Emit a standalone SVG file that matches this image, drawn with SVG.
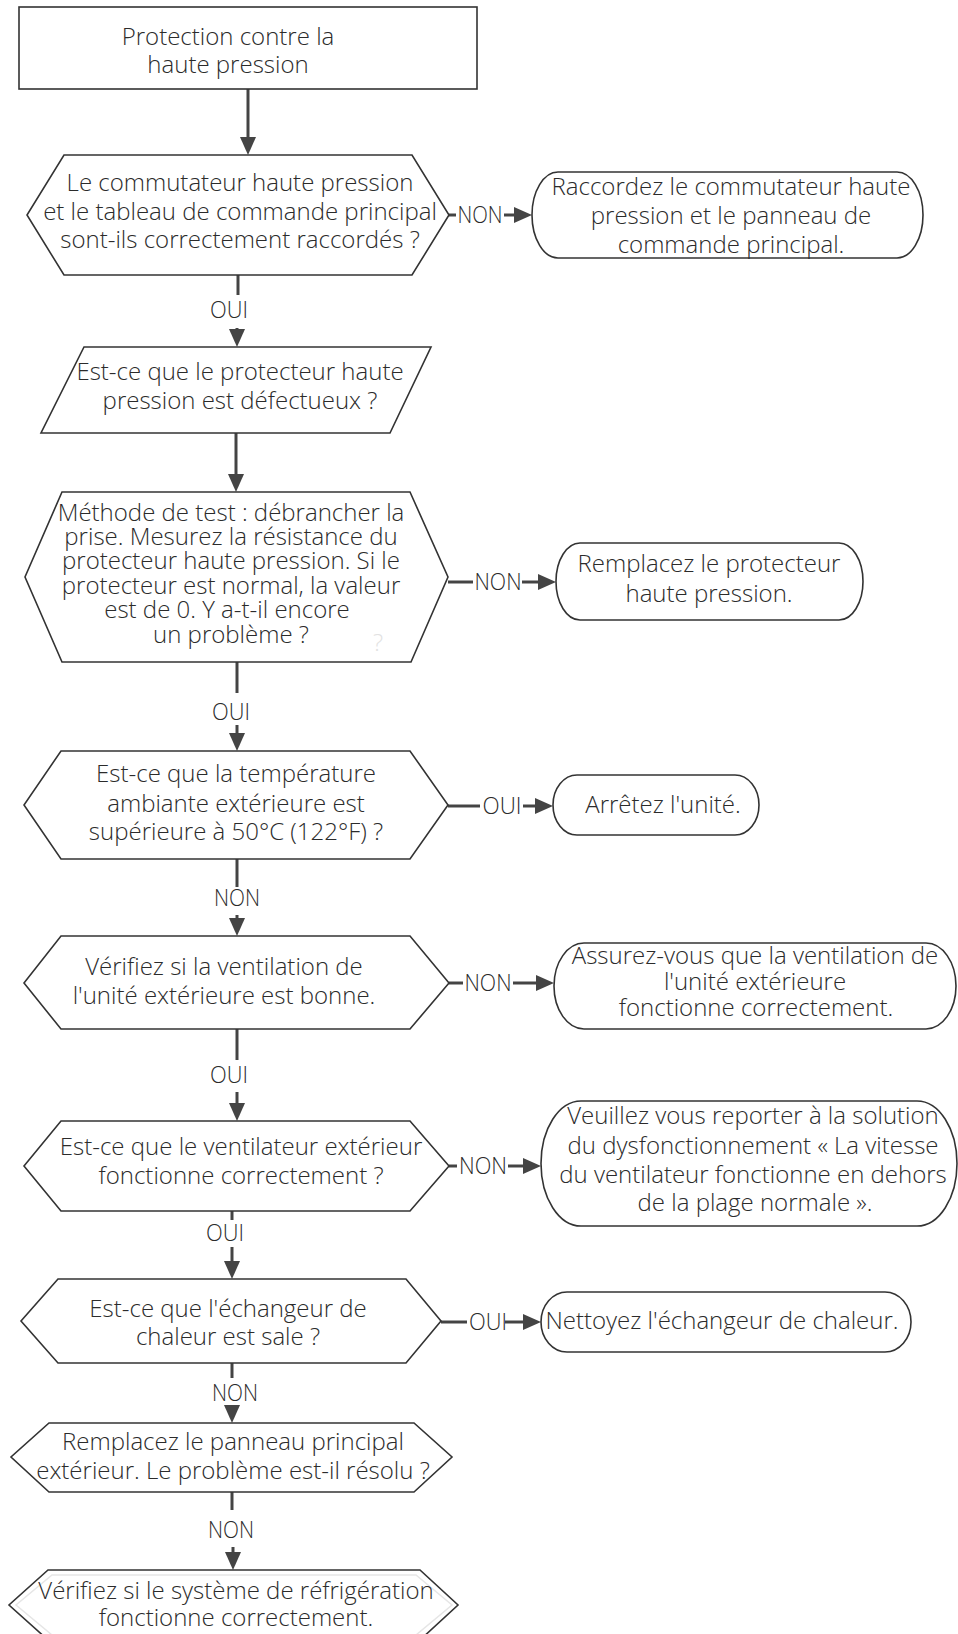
<svg xmlns="http://www.w3.org/2000/svg" width="958" height="1634" viewBox="0 0 958 1634">
<style>
.s{fill:#fff;stroke:#333;stroke-width:1.6}
.t{font-family:"Open Sans","Liberation Sans",sans-serif;font-size:24px;font-weight:300;fill:#2b2b2b;text-anchor:middle}
.c{fill:none;stroke:#444;stroke-width:3}
.l{font-family:"Open Sans","Liberation Sans",sans-serif;font-size:23px;font-weight:300;fill:#2b2b2b;text-anchor:middle}
</style>
<defs>
<marker id="ah" viewBox="0 0 18 16" markerUnits="userSpaceOnUse" markerWidth="18" markerHeight="16" refX="10" refY="8" orient="auto">
<path d="M0,0 L18,8 L0,16 z" fill="#444"/>
</marker>
</defs>
<rect width="958" height="1634" fill="#fff"/>

<g id="connectors">
<path class="c" d="M248,89 V147" marker-end="url(#ah)"/>
<path class="c" d="M238,275 V295"/>
<path class="c" d="M237,328 V339" marker-end="url(#ah)"/>
<path class="c" d="M236,433 V484" marker-end="url(#ah)"/>
<path class="c" d="M237,662 V693"/>
<path class="c" d="M237,725 V743" marker-end="url(#ah)"/>
<path class="c" d="M237,859 V887"/>
<path class="c" d="M237,915 V928" marker-end="url(#ah)"/>
<path class="c" d="M237,1029 V1060"/>
<path class="c" d="M237,1092 V1113" marker-end="url(#ah)"/>
<path class="c" d="M232,1211 V1220"/>
<path class="c" d="M232,1247 V1271" marker-end="url(#ah)"/>
<path class="c" d="M232,1363 V1378"/>
<path class="c" d="M232,1408 V1415" marker-end="url(#ah)"/>
<path class="c" d="M232,1492 V1510"/>
<path class="c" d="M233,1547 V1562" marker-end="url(#ah)"/>
<text class="l" x="229" y="318" textLength="38" lengthAdjust="spacingAndGlyphs">OUI</text>
<text class="l" x="231" y="720" textLength="38" lengthAdjust="spacingAndGlyphs">OUI</text>
<text class="l" x="237" y="906" textLength="46" lengthAdjust="spacingAndGlyphs">NON</text>
<text class="l" x="229" y="1083" textLength="38" lengthAdjust="spacingAndGlyphs">OUI</text>
<text class="l" x="225" y="1241" textLength="38" lengthAdjust="spacingAndGlyphs">OUI</text>
<text class="l" x="235" y="1401" textLength="46" lengthAdjust="spacingAndGlyphs">NON</text>
<text class="l" x="231" y="1538" textLength="46" lengthAdjust="spacingAndGlyphs">NON</text>

<path class="c" d="M449,215 H456"/>
<path class="c" d="M504,215 H524" marker-end="url(#ah)"/>
<text class="l" x="480" y="223" textLength="45" lengthAdjust="spacingAndGlyphs">NON</text>
<path class="c" d="M448,582 H473"/>
<path class="c" d="M522,582 H548" marker-end="url(#ah)"/>
<text class="l" x="498" y="590" textLength="47" lengthAdjust="spacingAndGlyphs">NON</text>
<path class="c" d="M448,806 H480"/>
<path class="c" d="M523,806 H545" marker-end="url(#ah)"/>
<text class="l" x="502" y="814" textLength="39" lengthAdjust="spacingAndGlyphs">OUI</text>
<path class="c" d="M449,983 H463"/>
<path class="c" d="M513,983 H546" marker-end="url(#ah)"/>
<text class="l" x="488" y="991" textLength="47" lengthAdjust="spacingAndGlyphs">NON</text>
<path class="c" d="M449,1166 H457"/>
<path class="c" d="M508,1166 H533" marker-end="url(#ah)"/>
<text class="l" x="483" y="1174" textLength="48" lengthAdjust="spacingAndGlyphs">NON</text>
<path class="c" d="M441,1322 H467"/>
<path class="c" d="M505,1322 H533" marker-end="url(#ah)"/>
<text class="l" x="488" y="1330" textLength="38" lengthAdjust="spacingAndGlyphs">OUI</text>
</g>

<g id="n-start">
<rect class="s" x="19" y="7" width="458" height="82"/>
<text class="t" x="228" y="45">Protection contre la</text>
<text class="t" x="228" y="73">haute pression</text>
</g>

<g id="n-q1">
<polygon class="s" points="64,155 412,155 449,215 412,275 64,275 27,215"/>
<text class="t" x="240" y="191">Le commutateur haute pression</text>
<text class="t" x="240" y="220">et le tableau de commande principal</text>
<text class="t" x="240" y="248">sont-ils correctement raccordés ?</text>
</g>

<g id="n-a1">
<rect class="s" x="532" y="172" width="391" height="86" rx="26" ry="43"/>
<text class="t" x="731" y="195">Raccordez le commutateur haute</text>
<text class="t" x="731" y="224">pression et le panneau de</text>
<text class="t" x="731" y="253">commande principal.</text>
</g>

<g id="n-q2">
<polygon class="s" points="84,347 431,347 390,433 41,433"/>
<text class="t" x="240" y="380">Est-ce que le protecteur haute</text>
<text class="t" x="240" y="409">pression est défectueux ?</text>
</g>

<g id="n-q3">
<polygon class="s" points="62,492 410,492 448,577 411,662 62,662 25,577"/>
<text class="t" x="231" y="521">Méthode de test : débrancher la</text>
<text class="t" x="231" y="545">prise. Mesurez la résistance du</text>
<text class="t" x="231" y="569">protecteur haute pression. Si le</text>
<text class="t" x="231" y="594">protecteur est normal, la valeur</text>
<text class="t" x="227" y="618">est de 0. Y a-t-il encore</text>
<text class="t" x="231" y="643">un problème ?</text>
<text class="t" x="378" y="651" style="fill:#e2e2e2">?</text>
</g>

<g id="n-a2">
<rect class="s" x="556" y="543" width="307" height="77" rx="24" ry="38.5"/>
<text class="t" x="709" y="572">Remplacez le protecteur</text>
<text class="t" x="709" y="602">haute pression.</text>
</g>

<g id="n-q4">
<polygon class="s" points="61,751 410,751 448,805 410,859 61,859 24,805"/>
<text class="t" x="236" y="782">Est-ce que la température</text>
<text class="t" x="236" y="812">ambiante extérieure est</text>
<text class="t" x="236" y="840">supérieure à 50°C (122°F) ?</text>
</g>

<g id="n-a3">
<rect class="s" x="553" y="775" width="206" height="60" rx="24" ry="30"/>
<text class="t" x="663" y="813">Arrêtez l'unité.</text>
</g>

<g id="n-q5">
<polygon class="s" points="61,936 410,936 449,983 410,1029 61,1029 24,983"/>
<text class="t" x="224" y="975">Vérifiez si la ventilation de</text>
<text class="t" x="224" y="1004">l'unité extérieure est bonne.</text>
</g>

<g id="n-a4">
<rect class="s" x="554" y="943" width="402" height="86" rx="30" ry="43"/>
<text class="t" x="755" y="964">Assurez-vous que la ventilation de</text>
<text class="t" x="755" y="990">l'unité extérieure</text>
<text class="t" x="756" y="1016">fonctionne correctement.</text>
</g>

<g id="n-q6">
<polygon class="s" points="61,1121 410,1121 449,1166 410,1211 61,1211 24,1166"/>
<text class="t" x="241" y="1155">Est-ce que le ventilateur extérieur</text>
<text class="t" x="241" y="1184">fonctionne correctement ?</text>
</g>

<g id="n-a5">
<rect class="s" x="541" y="1101" width="416" height="125" rx="40" ry="62.5"/>
<text class="t" x="753" y="1124">Veuillez vous reporter à la solution</text>
<text class="t" x="753" y="1154">du dysfonctionnement « La vitesse</text>
<text class="t" x="753" y="1183">du ventilateur fonctionne en dehors</text>
<text class="t" x="755" y="1211">de la plage normale ».</text>
</g>

<g id="n-q7">
<polygon class="s" points="58,1279 406,1279 441,1321 406,1363 58,1363 21,1321"/>
<text class="t" x="228" y="1317">Est-ce que l'échangeur de</text>
<text class="t" x="228" y="1345">chaleur est sale ?</text>
</g>

<g id="n-a6">
<rect class="s" x="541" y="1292" width="370" height="60" rx="26" ry="30"/>
<text class="t" x="722" y="1329">Nettoyez l'échangeur de chaleur.</text>
</g>

<g id="n-q8">
<polygon class="s" points="49,1423 414,1423 452,1457 414,1492 49,1492 11,1457"/>
<text class="t" x="233" y="1450">Remplacez le panneau principal</text>
<text class="t" x="233" y="1479">extérieur. Le problème est-il résolu ?</text>
</g>

<g id="n-q9">
<polygon class="s" points="48,1570 420,1570 458,1605 420,1640 48,1640 9,1605"/>
<polygon points="52,1575 416,1575 452,1605 416,1635 52,1635 16,1605" fill="none" stroke="#e6e6e6" stroke-width="1.5"/>
<text class="t" x="236" y="1599">Vérifiez si le système de réfrigération</text>
<text class="t" x="236" y="1626">fonctionne correctement.</text>
</g>
</svg>
